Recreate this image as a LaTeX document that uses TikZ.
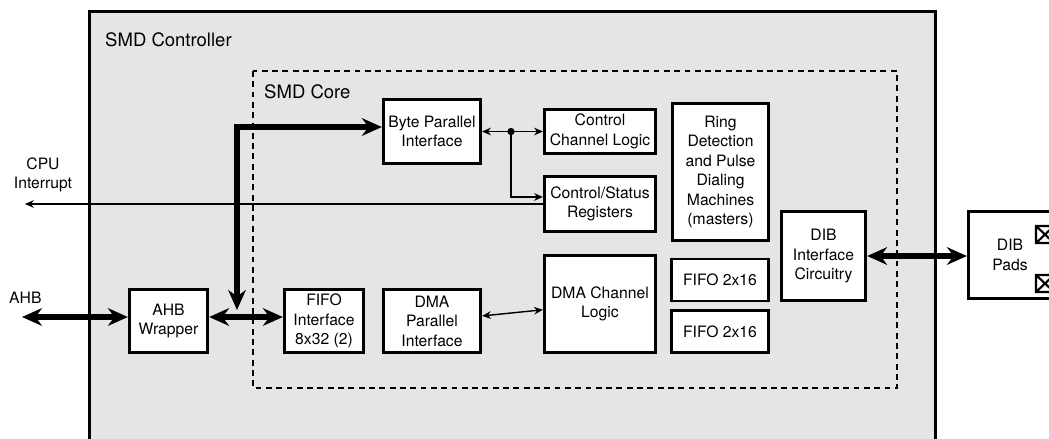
\documentclass[tikz,border=0pt]{standalone}
\usepackage{fontspec}
\setmainfont{TeX Gyre Heros}
\usetikzlibrary{calc, positioning}
\usetikzlibrary{arrows.meta}

\newcommand{\blockfont}{\fontsize{13.4pt}{16.6pt}\selectfont}
\newcommand{\titlefont}{\fontsize{15.8pt}{19pt}\selectfont}

\begin{document}
\begin{tikzpicture}[x=0.03cm,y=-0.03cm,
  block/.style={draw,line width=2.3pt,fill=white,align=center,inner sep=0pt,font=\blockfont},
  label/.style={align=center,inner sep=0pt,font=\blockfont},
  core/.style={line width=2pt,dash pattern=on 5pt off 3.8pt},
  bus/.style={line width=4.3pt,>={Stealth[length=17pt,width=15pt]}},
  link/.style={line width=1.2pt,>={Stealth[length=7.5pt,width=6.5pt]}},
  dot/.style={circle,fill=black,inner sep=0pt,minimum size=0.22cm}]
\useasboundingbox (0,0) rectangle (1049,438);

% controller and core
\draw[line width=2.5pt,fill=black!10] (89.5,11.5) rectangle (935.5,460);
\node[anchor=west,inner sep=0pt,font=\titlefont] (ctrltitle) at (105,40) {SMD Controller};
\draw[core] (253,71) rectangle (897,388);
\node[anchor=west,inner sep=0pt,font=\titlefont] (coretitle) at (264,92) {SMD Core};

% blocks
\node[block,minimum width=2.925cm,minimum height=1.935cm] (bpi) at (432,131.5) {Byte Parallel\\Interface};
\node[block,minimum width=3.345cm,minimum height=1.335cm] (ccl) at (600,131.5) {Control\\Channel Logic};
\node[block,minimum width=3.345cm,minimum height=1.665cm] (csr) at (600,204) {Control/Status\\Registers};
\node[block,minimum width=2.895cm,minimum height=4.125cm] (ring) at (720.5,172) {Ring\\Detection\\and Pulse\\Dialing\\Machines\\(masters)};
\node[block,minimum width=2.535cm,minimum height=2.685cm] (dib) at (823.5,256) {DIB\\Interface\\Circuitry};
\node[block,minimum width=2.925cm,minimum height=1.26cm] (fifoa) at (720,280) {FIFO 2x16};
\node[block,minimum width=2.925cm,minimum height=1.26cm] (fifob) at (720,331.5) {FIFO 2x16};
\node[block,minimum width=3.345cm,minimum height=2.925cm] (dmacl) at (600,304) {DMA Channel\\Logic};
\node[block,minimum width=2.925cm,minimum height=1.905cm] (dmapi) at (432,321) {DMA\\Parallel\\Interface};
\node[block,minimum width=2.385cm,minimum height=1.905cm] (fifoif) at (324,321) {FIFO\\Interface\\8x32 (2)};
\node[block,minimum width=2.355cm,minimum height=1.905cm] (ahbw) at (168.5,321) {AHB\\Wrapper};
\node[block,minimum width=2.505cm,minimum height=2.625cm] (pads) at (1010,255) {DIB\\Pads};

% pad marks
\draw[line width=1.8pt] (1036,226) rectangle (1054,243) (1036,226) -- (1054,243) (1036,243) -- (1054,226);
\draw[line width=1.8pt] (1036,275) rectangle (1054,292) (1036,275) -- (1054,292) (1036,292) -- (1054,275);

% outside labels
\node[label] (cpulabel) at (43,175) {CPU\\Interrupt};
\node[label,anchor=west] (ahblabel) at (9,298) {AHB};

% thin links
\node[dot] (split) at (511,131.5) {};
\draw[link,<->] (bpi.east) -- (ccl.west);
\draw[link,->] (split) |- ([yshift=6pt]csr.west);
\coordinate (cpuend) at (25,204);
\draw[link,->] (csr.west) -- (cpuend);
\draw[link,<->] (dmapi) -- (dmacl);

% buses
\coordinate (ahbend) at (22,317);
\coordinate (busturn) at (237,127);
\coordinate (bustip) at (237,310);
\draw[bus,<->] (ahbend) -- (ahbend -| ahbw.west);
\draw[bus,<->] (ahbw.east |- ahbend) -- (fifoif.west |- ahbend);
\draw[bus,<->] (bustip) -- (busturn) -- (busturn -| bpi.west);
\draw[bus,<->] (dib.east) -- (dib.east -| pads.west);
\end{tikzpicture}
\end{document}
